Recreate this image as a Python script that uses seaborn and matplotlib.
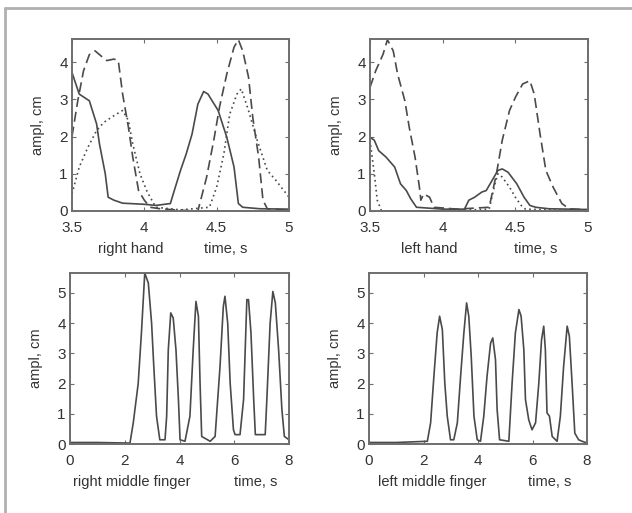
import numpy as np
import pandas as pd
import matplotlib
matplotlib.use("Agg")
import matplotlib.pyplot as plt
import seaborn as sns
from matplotlib.lines import Line2D

# right hand (top left)
rh_solid_t = [3.5, 3.55, 3.62, 3.67, 3.69, 3.73, 3.75, 3.79, 3.85, 4.0, 4.08, 4.18, 4.2, 4.25, 4.29,
              4.33, 4.37, 4.41, 4.44, 4.51, 4.57, 4.62, 4.65, 4.68, 4.8, 5.0]
rh_solid_a = [3.72, 3.14, 2.96, 2.34, 1.8, 1.0, 0.37, 0.29, 0.21, 0.18, 0.15, 0.2, 0.46, 1.09, 1.54,
              2.07, 2.87, 3.21, 3.14, 2.7, 1.98, 1.18, 0.2, 0.1, 0.06, 0.05]
rh_dash_t = [3.5, 3.54, 3.58, 3.62, 3.66, 3.69, 3.74, 3.79, 3.82, 3.85, 3.89, 3.92, 3.96, 4.0, 4.04,
             4.11, 4.25, 4.37, 4.43, 4.48, 4.52, 4.57, 4.62, 4.65, 4.68, 4.72, 4.75, 4.79, 4.82,
             4.85, 5.0]
rh_dash_a = [2.0, 2.96, 3.77, 4.2, 4.3, 4.2, 4.04, 4.08, 4.04, 3.14, 2.25, 1.45, 0.55, 0.29, 0.1,
             0.06, 0.02, 0.0, 0.9, 1.9, 2.8, 3.68, 4.4, 4.6, 4.3, 3.6, 2.5, 1.45, 0.29,
             0.06, 0.02]
rh_dot_t = [3.5, 3.55, 3.61, 3.67, 3.72, 3.79, 3.85, 3.89, 3.92, 3.97, 4.02, 4.08, 4.25, 4.45, 4.5,
            4.55, 4.59, 4.64, 4.67, 4.72, 4.78, 4.85, 4.91, 5.0]
rh_dot_a = [0.46, 1.18, 1.71, 2.16, 2.38, 2.56, 2.7, 2.43, 1.8, 1.0, 0.51, 0.1, 0.03, 0.1, 0.64,
            1.54, 2.6, 3.14, 3.28, 2.7, 1.9, 1.09, 0.82, 0.37]

# left hand (top right)
lh_dash_t = [3.5, 3.54, 3.59, 3.62, 3.66, 3.69, 3.74, 3.77, 3.81, 3.84, 3.85, 3.87, 3.91, 3.94,
             4.1, 4.32, 4.37, 4.41, 4.46, 4.5, 4.55, 4.6, 4.63, 4.67, 4.71, 4.76, 4.82, 4.87, 5.0]
lh_dash_a = [3.32, 3.77, 4.21, 4.6, 4.3, 3.68, 2.96, 2.25, 1.45, 0.64, 0.29, 0.46, 0.37, 0.1,
             0.05, 0.1, 1.0, 1.9, 2.7, 3.05, 3.41, 3.5, 3.14, 2.07, 1.09, 0.64, 0.2, 0.06, 0.03]
lh_solid_t = [3.5, 3.53, 3.56, 3.61, 3.67, 3.71, 3.75, 3.78, 3.82, 4.0, 4.15, 4.18, 4.22, 4.27, 4.3,
              4.34, 4.38, 4.41, 4.45, 4.51, 4.56, 4.6, 4.64, 4.73, 5.0]
lh_solid_a = [1.98, 1.9, 1.62, 1.45, 1.18, 0.73, 0.55, 0.33, 0.1, 0.05, 0.05, 0.29, 0.37, 0.51, 0.55,
              0.82, 1.09, 1.13, 1.04, 0.73, 0.37, 0.15, 0.1, 0.06, 0.04]
lh_dot_t = [3.5, 3.53, 3.55, 3.58, 4.0, 4.32, 4.36, 4.38, 4.41, 4.46, 4.5, 4.54, 4.57, 5.0]
lh_dot_a = [1.9, 1.0, 0.29, 0.0, 0.0, 0.05, 0.73, 1.0, 0.91, 0.64, 0.37, 0.15, 0.05, 0.0]

# right middle finger (bottom left)
rf_t = [0.0, 1.0, 2.19, 2.31, 2.49, 2.61, 2.73, 2.86, 2.98, 3.06, 3.16, 3.28, 3.47, 3.53, 3.59,
        3.68, 3.77, 3.87, 3.96, 4.02, 4.2, 4.38, 4.5, 4.6, 4.69, 4.75, 4.81, 5.12, 5.3, 5.48,
        5.6, 5.66, 5.76, 5.85, 5.97, 6.03, 6.21, 6.34, 6.46, 6.52, 6.61, 6.71, 6.77, 7.13,
        7.19, 7.31, 7.41, 7.5, 7.62, 7.74, 7.83, 8.0]
rf_a = [0.05, 0.05, 0.03, 0.7, 2.0, 3.7, 5.66, 5.33, 4.0, 2.57, 0.92, 0.14, 0.14, 0.92, 3.12,
        4.34, 4.17, 3.12, 1.47, 0.14, 0.09, 0.92, 3.12, 4.72, 4.23, 2.02, 0.25, 0.09, 0.25, 2.57,
        4.55, 4.89, 4.0, 2.02, 0.47, 0.31, 0.31, 1.47, 4.78, 4.78, 3.68, 1.47, 0.31, 0.31,
        1.47, 4.0, 5.05, 4.67, 3.12, 1.14, 0.25, 0.14]

# left middle finger (bottom right)
lf_t = [0.0, 1.0, 2.14, 2.26, 2.38, 2.5, 2.59, 2.69, 2.78, 2.87, 2.99, 3.11, 3.24, 3.36, 3.48,
        3.58, 3.66, 3.75, 3.85, 3.97, 4.09, 4.21, 4.33, 4.46, 4.54, 4.64, 4.7, 4.79, 5.13, 5.25,
        5.37, 5.5, 5.58, 5.68, 5.74, 5.86, 5.98, 6.11, 6.23, 6.33, 6.41, 6.47, 6.53, 6.62,
        6.72, 6.9, 7.02, 7.14, 7.27, 7.35, 7.45, 7.55, 7.69, 7.82, 8.0]
lf_a = [0.05, 0.05, 0.09, 0.7, 2.24, 3.68, 4.23, 3.79, 2.02, 0.92, 0.14, 0.14, 0.7, 2.24, 3.68,
        4.67, 4.23, 2.9, 0.92, 0.14, 0.09, 0.92, 2.24, 3.34, 3.51, 2.79, 1.14, 0.14, 0.09, 2.02,
        3.68, 4.45, 4.23, 3.12, 1.47, 0.8, 0.47, 0.7, 2.02, 3.45, 3.9, 3.12, 1.03, 0.92,
        0.25, 0.09, 0.92, 2.57, 3.9, 3.57, 2.02, 0.36, 0.14, 0.09, 0.03]

sns.set_theme(style="white")
plt.rcParams["font.family"] = ["Liberation Sans", "DejaVu Sans"]

fig = plt.figure(figsize=(6.32, 5.13), dpi=100)
col = "#4a4a4a"
spine_col = "#6e6e6e"

positions = [
    [0.1139, 0.5887, 0.3434, 0.3353],
    [0.5854, 0.5887, 0.3450, 0.3353],
    [0.1108, 0.1345, 0.3465, 0.3333],
    [0.5839, 0.1345, 0.3450, 0.3333],
]
axes = [fig.add_axes(p) for p in positions]

dash_styles = {"solid": None, "dash": (6, 3), "dot": (1, 2)}


def draw(ax, t, a, kind):
    df = pd.DataFrame({"t": t, "a": a})
    sns.lineplot(data=df, x="t", y="a", ax=ax, color=col, linewidth=1.2,
                 estimator=None, sort=False)
    if dash_styles[kind] is not None:
        ax.get_lines()[-1].set_dashes(dash_styles[kind])


draw(axes[0], rh_solid_t, rh_solid_a, "solid")
draw(axes[0], rh_dash_t, rh_dash_a, "dash")
draw(axes[0], rh_dot_t, rh_dot_a, "dot")
draw(axes[1], lh_solid_t, lh_solid_a, "solid")
draw(axes[1], lh_dash_t, lh_dash_a, "dash")
draw(axes[1], lh_dot_t, lh_dot_a, "dot")
draw(axes[2], rf_t, rf_a, "solid")
draw(axes[3], lf_t, lf_a, "solid")

labels = ["right hand", "left hand", "right middle finger", "left middle finger"]
label_x = [0.27, 0.27, 0.28, 0.29]
time_x = [0.71, 0.76, 0.85, 0.83]

for i, ax in enumerate(axes):
    if i < 2:
        ax.set_xlim(3.5, 5)
        ax.set_ylim(0, 4.62)
        ax.set_xticks([3.5, 4, 4.5, 5])
        ax.set_xticklabels(["3.5", "4", "4.5", "5"])
        ax.set_yticks([0, 1, 2, 3, 4])
    else:
        ax.set_xlim(0, 8)
        ax.set_ylim(0, 5.66)
        ax.set_xticks([0, 2, 4, 6, 8])
        ax.set_yticks([0, 1, 2, 3, 4, 5])
    ax.tick_params(direction="in", length=3, width=0.8, color=spine_col,
                   top=True, right=True, bottom=True, left=True,
                   labelsize=11, labelcolor="#333333")
    ax.tick_params(axis="x", pad=7)
    ax.tick_params(axis="y", pad=3)
    for s in ax.spines.values():
        s.set_visible(True)
        s.set_color(spine_col)
        s.set_linewidth(1.4)
    ax.set_xlabel("")
    ax.set_ylabel("ampl, cm", fontsize=10.5, color="#333333", labelpad=10)
    ax.text(label_x[i], -0.22, labels[i], transform=ax.transAxes, ha="center",
            va="center", fontsize=10.5, color="#333333")
    ax.text(time_x[i], -0.22, "time, s", transform=ax.transAxes, ha="center",
            va="center", fontsize=10.5, color="#333333")

# outer frame lines (left and top)
fig.add_artist(Line2D([5 / 632, 5 / 632], [0, 1 - 8 / 513], transform=fig.transFigure,
                      color="#b0b0b0", linewidth=2))
fig.add_artist(Line2D([5 / 632, 1], [1 - 8 / 513, 1 - 8 / 513], transform=fig.transFigure,
                      color="#b0b0b0", linewidth=2))

fig.savefig("out.png", dpi=100)
